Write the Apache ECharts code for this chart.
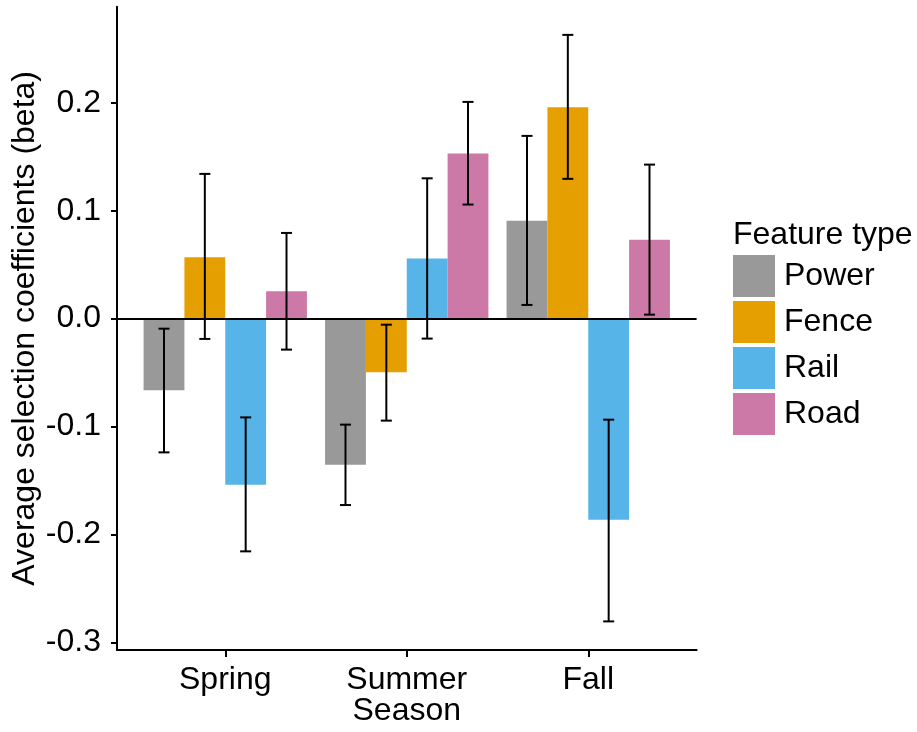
<!DOCTYPE html>
<html>
<head>
<meta charset="utf-8">
<script src="https://cdn.jsdelivr.net/npm/echarts@6/dist/echarts.min.js"></script>
<style>
  html, body { margin: 0; padding: 0; background: #fff; }
  #chart { width: 917px; height: 732px; }
</style>
</head>
<body>
<div id="chart"></div>
<script>
// seasons on the x axis
const seasons = ['Spring', 'Summer', 'Fall'];
const featureTypes = ['Power', 'Fence', 'Rail', 'Road'];

// mean beta per season
const power = [-0.0664, -0.1353, 0.0908];
const fence = [0.0568, -0.0497, 0.1958];
const rail = [-0.1538, 0.0556, -0.1863];
const road = [0.0253, 0.1529, 0.0732];

// error bar ends
const powerLow = [-0.1239, -0.1727, 0.0127];
const powerHigh = [-0.0093, -0.0982, 0.1693];
const fenceLow = [-0.0188, -0.0945, 0.1295];
const fenceHigh = [0.1341, -0.0056, 0.2629];
const railLow = [-0.2156, -0.0185, -0.2805];
const railHigh = [-0.0915, 0.1300, -0.0936];
const roadLow = [-0.0287, 0.1057, 0.0037];
const roadHigh = [0.0794, 0.2008, 0.1427];

const yTicks = [-0.3, -0.2, -0.1, 0.0, 0.1, 0.2];
const yMin = -0.307, yMax = 0.289;

const colors = ['#999999', '#E69F00', '#56B4E9', '#CC79A7'];
const means = [power, fence, rail, road];
const lows = [powerLow, fenceLow, railLow, roadLow];
const highs = [powerHigh, fenceHigh, railHigh, roadHigh];

const font = "'Liberation Sans', Arial, sans-serif";

// one row per error bar: [season index, type index, low, high]
const errData = [];
seasons.forEach((s, i) => {
  featureTypes.forEach((t, k) => {
    errData.push([i, k, lows[k][i], highs[k][i]]);
  });
});

function renderErrorBar(params, api) {
  const cat = api.value(0);
  const k = api.value(1);
  const band = api.size([1, 0])[0];
  const barW = band * 0.9 / 4;
  const cx = api.coord([cat, 0])[0] + (k - 1.5) * barW;
  const yLo = api.coord([cat, api.value(2)])[1];
  const yHi = api.coord([cat, api.value(3)])[1];
  const half = barW * 0.135;
  const style = { stroke: '#000', lineWidth: 2 };
  return {
    type: 'group',
    children: [
      { type: 'line', shape: { x1: cx, y1: yLo, x2: cx, y2: yHi }, style: style },
      { type: 'line', shape: { x1: cx - half, y1: yLo, x2: cx + half, y2: yLo }, style: style },
      { type: 'line', shape: { x1: cx - half, y1: yHi, x2: cx + half, y2: yHi }, style: style }
    ]
  };
}

const chart = echarts.init(document.getElementById('chart'));

const barSeries = featureTypes.map((name, k) => ({
  name: name,
  type: 'bar',
  xAxisIndex: 0,
  yAxisIndex: 0,
  data: means[k],
  barGap: '0%',
  barCategoryGap: '10%',
  itemStyle: { color: colors[k] },
  z: 2
}));

const option = {
  animation: false,
  textStyle: { fontFamily: font },
  color: colors,
  title: {
    text: 'Feature type',
    left: 733,
    top: 219,
    padding: 0,
    textStyle: { fontFamily: font, fontSize: 32, fontWeight: 'normal', color: '#000' }
  },
  legend: {
    data: featureTypes,
    orient: 'vertical',
    left: 733,
    top: 255,
    padding: 0,
    itemWidth: 42,
    itemHeight: 42,
    itemGap: 4,
    icon: 'rect',
    selectedMode: false,
    textStyle: { fontFamily: font, fontSize: 32, color: '#000', padding: [2, 0, 0, 4] }
  },
  grid: [
    // bars: band positions matching the discrete scale with 0.6 expansion
    { left: 134.5, width: 544.5, top: 6.7, bottom: 82, outerBoundsMode: 'none', containLabel: false },
    // axes frame
    { left: 117, width: 579.6, top: 6.7, bottom: 82, outerBoundsMode: 'none', containLabel: false }
  ],
  xAxis: [
    {
      type: 'category',
      gridIndex: 0,
      data: seasons,
      axisLine: { show: false, onZero: false },
      axisTick: { show: true, alignWithLabel: true, length: 7, lineStyle: { color: '#000', width: 2 } },
      axisLabel: { fontSize: 32, color: '#000', margin: 14, fontFamily: font },
      splitLine: { show: false },
      name: 'Season',
      nameLocation: 'middle',
      nameGap: 45,
      nameMoveOverlap: false,
      nameTextStyle: { fontSize: 32, color: '#000', fontFamily: font }
    },
    {
      type: 'value',
      gridIndex: 1,
      min: 0,
      max: 1,
      axisLine: { show: true, onZero: false, lineStyle: { color: '#000', width: 2 } },
      axisTick: { show: false },
      axisLabel: { show: false },
      splitLine: { show: false }
    }
  ],
  yAxis: [
    {
      type: 'value',
      gridIndex: 0,
      min: yMin,
      max: yMax,
      show: false
    },
    {
      type: 'value',
      gridIndex: 1,
      min: yMin,
      max: yMax,
      axisLine: { show: true, lineStyle: { color: '#000', width: 2 } },
      axisTick: { show: true, length: 6, customValues: yTicks, lineStyle: { color: '#000', width: 2 } },
      axisLabel: {
        customValues: yTicks,
        fontSize: 32,
        color: '#000',
        margin: 16,
        fontFamily: font,
        formatter: v => v.toFixed(1)
      },
      splitLine: { show: false },
      name: 'Average selection coefficients (beta)',
      nameLocation: 'middle',
      nameGap: 76,
      nameMoveOverlap: false,
      nameTextStyle: { fontSize: 32, color: '#000', fontFamily: font }
    }
  ],
  series: barSeries.concat([
    {
      // horizontal zero line across the whole panel
      type: 'line',
      xAxisIndex: 1,
      yAxisIndex: 1,
      data: [],
      silent: true,
      z: 3,
      markLine: {
        silent: true,
        symbol: 'none',
        label: { show: false },
        lineStyle: { color: '#000', width: 2, type: 'solid' },
        data: [{ yAxis: 0 }]
      }
    },
    {
      type: 'custom',
      name: 'errors',
      xAxisIndex: 0,
      yAxisIndex: 0,
      renderItem: renderErrorBar,
      data: errData,
      z: 4,
      silent: true
    }
  ])
};

chart.setOption(option);
</script>
</body>
</html>
